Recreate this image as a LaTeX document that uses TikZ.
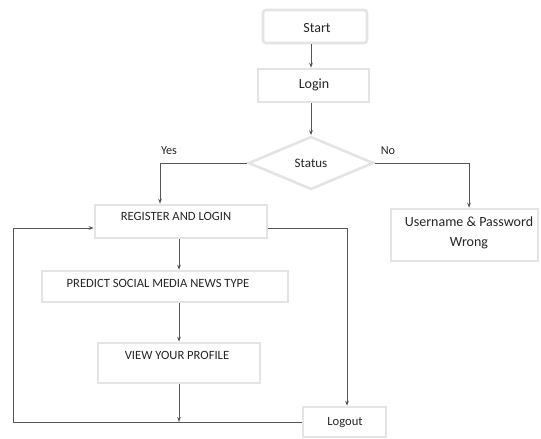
\documentclass[tikz,border=0pt]{standalone}
\usepackage{fontspec}
\setmainfont{Carlito}
\usetikzlibrary{shapes.geometric,arrows.meta}
\definecolor{boxline}{HTML}{E4E4E4}
\definecolor{conn}{HTML}{555555}
\definecolor{txt}{HTML}{262626}
\begin{document}
\begin{tikzpicture}[x=1pt,y=-1pt,
  box/.style={draw=boxline,line width=2.6pt,rectangle,inner sep=0pt,fill=white},
  dia/.style={draw=boxline,line width=2.6pt,diamond,inner sep=0pt,fill=white,text=txt,font=\fontsize{13}{15}\selectfont},
  big/.style={text=txt,font=\fontsize{14}{20}\selectfont,inner sep=0pt,align=center},
  caps/.style={text=txt,font=\fontsize{12.6}{15}\selectfont,inner sep=0pt},
  small/.style={text=txt,font=\fontsize{12.2}{14}\selectfont,inner sep=0pt},
  arr/.style={draw=conn,line width=1pt,-{Stealth[length=5pt,width=3.6pt]}},
  ln/.style={draw=conn,line width=1pt}]
\useasboundingbox (0,0) rectangle (541,439);
\fill[white] (0,0) rectangle (541,439);
% boxes
\node[box,rounded corners=3pt,minimum width=104pt,minimum height=33pt] (start) at (315,26.5) {};
\node[box,minimum width=111pt,minimum height=33pt] (login) at (313.5,85.5) {};
\node[dia,minimum width=125pt,minimum height=53pt] (status) at (311,163) {Status};
\node[box,minimum width=172pt,minimum height=33pt] (register) at (181,221.5) {};
\node[box,minimum width=147pt,minimum height=52pt] (username) at (464.5,235) {};
\node[box,minimum width=246pt,minimum height=31pt] (predict) at (165,286.5) {};
\node[box,minimum width=162pt,minimum height=40pt] (view) at (179,363) {};
\node[box,minimum width=83pt,minimum height=30pt] (logout) at (344.5,422) {};
% labels
\node[big] (tstart) at (317,28) {Start};
\node[big] (tlogin) at (314,85) {Login};
\node[caps] (treg) at (176,216) {REGISTER AND LOGIN};
\node[big] (tuser) at (469,233) {Username \& Password\\Wrong};
\node[caps] (tpred) at (158,283) {PREDICT SOCIAL MEDIA NEWS TYPE};
\node[caps] (tview) at (177,355) {VIEW YOUR PROFILE};
\node[caps] (tlogout) at (345,423) {Logout};
\node[small] (tyes) at (169,151) {Yes};
\node[small] (tno) at (388,151) {No};
% connectors
\draw[arr] (start.south -| status.north) -- (login.north -| status.north);
\draw[arr] (login.south -| status.north) -- (status.north);
\draw[arr] (status.west) -| ([xshift=-21pt]register.north);
\draw[arr] (status.east) -| ([xshift=4.5pt]username.north);
\draw[arr] (register.south -| view.north) -- (predict.north -| view.north);
\draw[arr] (predict.south -| view.north) -- (view.north);
\coordinate (loopL) at (13,422);
\draw[arr] (view.south) -- (view.south |- logout.west);
\draw[arr] (logout.west) -- (loopL) |- ([yshift=-6.5pt]register.west);
\draw[arr] ([yshift=-6.5pt]register.east) -| ([xshift=2.5pt]logout.north);
\end{tikzpicture}
\end{document}
